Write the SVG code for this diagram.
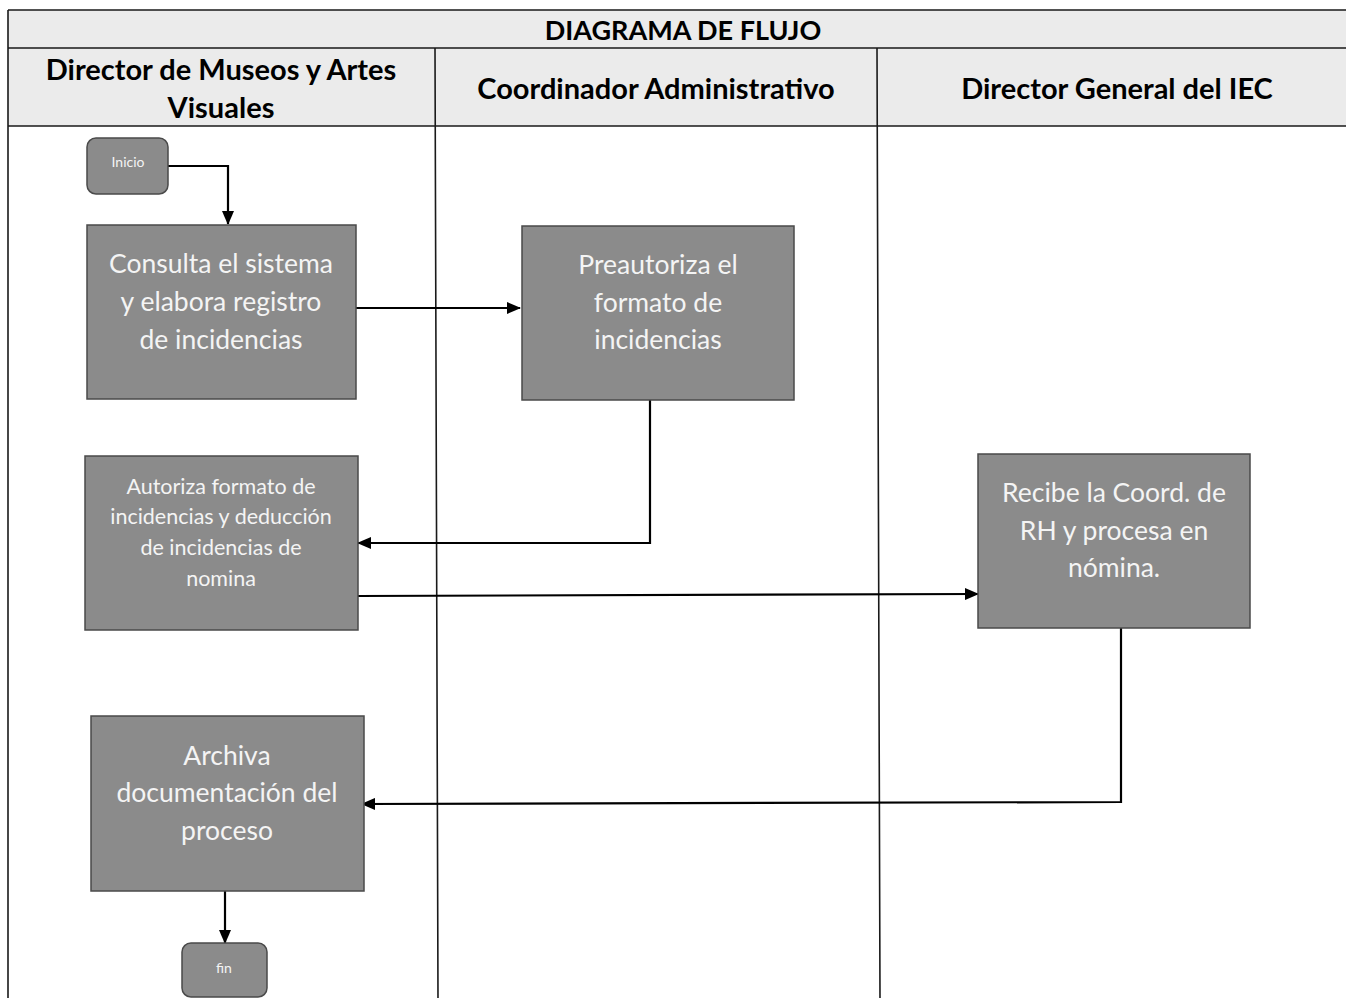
<svg xmlns="http://www.w3.org/2000/svg" width="1346" height="998" viewBox="0 0 1346 998">
  <style>
    .hdr { fill: #ebebeb; }
    .grid { stroke: #1a1a1a; stroke-width: 1.6; fill: none; }
    .title { font-family: Lato, "Open Sans", sans-serif; font-weight: bold; fill: #000; text-anchor: middle; }
    .box { fill: #8b8b8b; stroke: #4a4a4a; stroke-width: 1.5; }
    .txt { font-family: Lato, "Open Sans", sans-serif; fill: #f4f4f4; text-anchor: middle; }
    .conn { stroke: #000; stroke-width: 2.2; fill: none; marker-end: url(#arrow); }
  </style>
  <defs>
    <marker id="arrow" viewBox="0 0 14 12" refX="13" refY="6" markerWidth="14" markerHeight="12" markerUnits="userSpaceOnUse" orient="auto">
      <path d="M0,0 L14,6 L0,12 z" fill="#000"/>
    </marker>
  </defs>
  <rect width="1346" height="998" fill="#ffffff"/>

  <!-- swimlane table -->
  <g id="table">
    <rect class="hdr" x="8" y="10" width="1338" height="116"/>
    <path class="grid" d="M8,10 H1346 M8,48 H1346 M8,126 H1346 M8,10 V998 M435,48 L438,998 M877,48 L880,998"/>
    <text class="title" x="683" y="40" font-size="27">DIAGRAMA DE FLUJO</text>
    <text class="title" x="221" y="80" font-size="29">Director de Museos y Artes</text>
    <text class="title" x="221" y="118" font-size="29">Visuales</text>
    <text class="title" x="656" y="99" font-size="29">Coordinador Administrativo</text>
    <text class="title" x="1117" y="99" font-size="29">Director General del IEC</text>
  </g>

  <!-- connectors -->
  <g id="connectors">
    <path class="conn" d="M168,166 H228 V224"/>
    <path class="conn" d="M356,308 H520"/>
    <path class="conn" d="M650,400 V543 H358"/>
    <path class="conn" d="M358,596 L978,594"/>
    <path class="conn" d="M1121,628 V802 L362,804"/>
    <path class="conn" d="M225,891 V943"/>
  </g>

  <g id="inicio">
    <rect class="box" x="87" y="138" width="81" height="56" rx="9"/>
    <text class="txt" x="128" y="167" font-size="14">Inicio</text>
  </g>

  <g id="consulta">
    <rect class="box" x="87" y="225" width="269" height="174"/>
    <text class="txt" x="221" y="273" font-size="26.5">Consulta el sistema</text>
    <text class="txt" x="221" y="311" font-size="26.5">y elabora registro</text>
    <text class="txt" x="221" y="349" font-size="26.5">de incidencias</text>
  </g>

  <g id="preautoriza">
    <rect class="box" x="522" y="226" width="272" height="174"/>
    <text class="txt" x="658" y="274" font-size="26.5">Preautoriza el</text>
    <text class="txt" x="658" y="312" font-size="26.5">formato de</text>
    <text class="txt" x="658" y="349" font-size="26.5">incidencias</text>
  </g>

  <g id="autoriza">
    <rect class="box" x="85" y="456" width="273" height="174"/>
    <text class="txt" x="221" y="494" font-size="21.5">Autoriza formato de</text>
    <text class="txt" x="221" y="524" font-size="21.5">incidencias y deducción</text>
    <text class="txt" x="221" y="555" font-size="21.5">de incidencias de</text>
    <text class="txt" x="221" y="586" font-size="21.5">nomina</text>
  </g>

  <g id="recibe">
    <rect class="box" x="978" y="454" width="272" height="174"/>
    <text class="txt" x="1114" y="502" font-size="26.5">Recibe la Coord. de</text>
    <text class="txt" x="1114" y="540" font-size="26.5">RH y procesa en</text>
    <text class="txt" x="1114" y="577" font-size="26.5">nómina.</text>
  </g>

  <g id="archiva">
    <rect class="box" x="91" y="716" width="273" height="175"/>
    <text class="txt" x="227" y="765" font-size="26.5">Archiva</text>
    <text class="txt" x="227" y="802" font-size="26.5">documentación del</text>
    <text class="txt" x="227" y="840" font-size="26.5">proceso</text>
  </g>

  <g id="fin">
    <rect class="box" x="182" y="943" width="85" height="54" rx="9"/>
    <text class="txt" x="224" y="973" font-size="14">fin</text>
  </g>
</svg>
